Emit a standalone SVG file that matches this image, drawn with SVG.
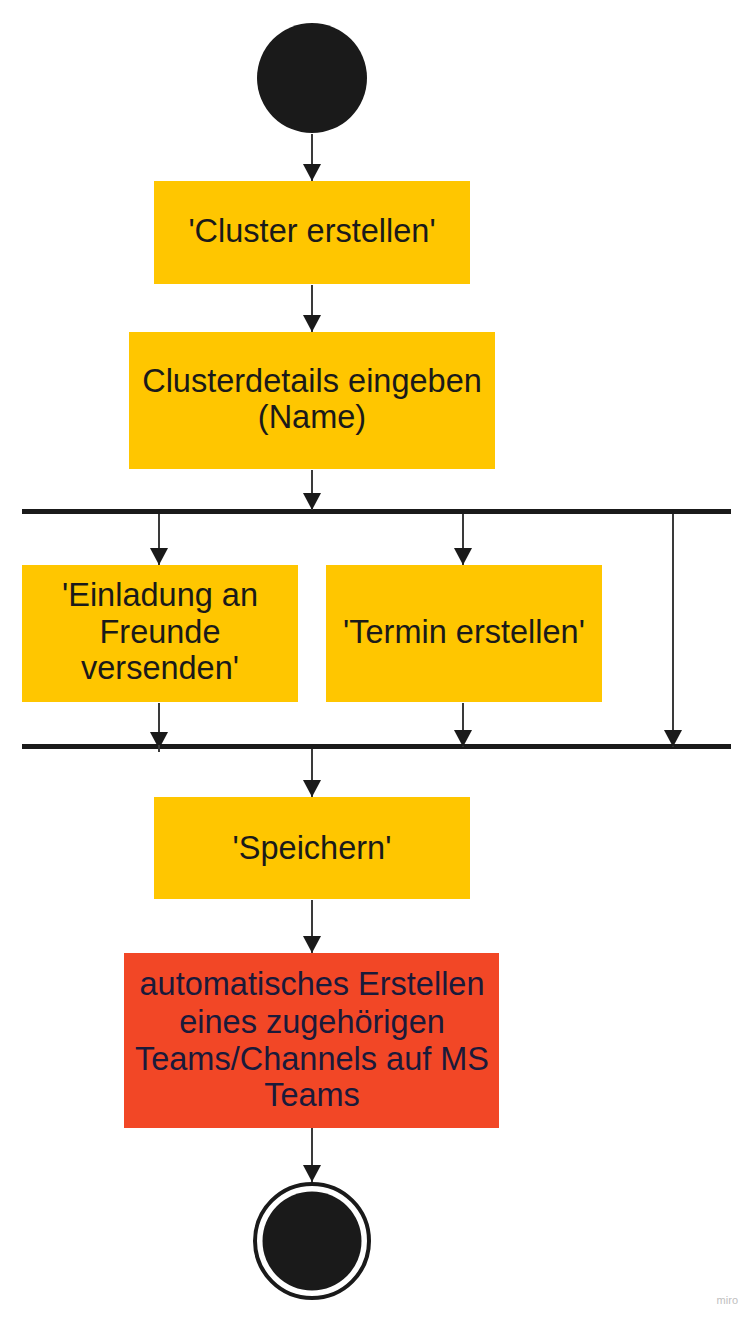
<svg xmlns="http://www.w3.org/2000/svg" width="756" height="1321" viewBox="0 0 756 1321">
<style>
.box{fill:#FFC600}
.red{fill:#F24726}
.t{font-family:"Liberation Sans",Arial,sans-serif;font-size:32.5px;fill:#1a1a1a;text-anchor:middle}
.tr{fill:#1a1a3a}
.c{stroke:#3a3a3a;stroke-width:2;fill:none}
.a{marker-end:url(#ah)}
.bar{fill:#1a1a1a}
</style>
<defs>
<marker id="ah" markerWidth="17" markerHeight="18" refX="17" refY="9" orient="auto" markerUnits="userSpaceOnUse" viewBox="0 0 17 18">
<path d="M0,0 L17,9 L0,18 Z" fill="#1a1a1a"/>
</marker>
</defs>
<rect width="756" height="1321" fill="#ffffff"/>
<g id="start"><circle cx="312" cy="78" r="55" fill="#1a1a1a"/></g>
<g id="cluster-erstellen"><rect class="box" x="154" y="181" width="316" height="103"/><text class="t" x="312" y="242">'Cluster erstellen'</text></g>
<g id="clusterdetails"><rect class="box" x="129" y="332" width="366" height="137"/><text class="t" x="312" y="392">Clusterdetails eingeben</text><text class="t" x="312" y="428">(Name)</text></g>
<g id="fork"><rect class="bar" x="22" y="509" width="709" height="5"/></g>
<g id="einladung"><rect class="box" x="22" y="565" width="276" height="137"/><text class="t" x="160" y="606">'Einladung an</text><text class="t" x="160" y="643">Freunde</text><text class="t" x="160" y="679">versenden'</text></g>
<g id="termin"><rect class="box" x="326" y="565" width="276" height="137"/><text class="t" x="464" y="643">'Termin erstellen'</text></g>
<g id="join"><rect class="bar" x="22" y="744" width="709" height="5"/></g>
<g id="speichern"><rect class="box" x="154" y="797" width="316" height="102"/><text class="t" x="312" y="859">'Speichern'</text></g>
<g id="teams"><rect class="red" x="124" y="953" width="375" height="175"/><text class="t tr" x="312" y="995">automatisches Erstellen</text><text class="t tr" x="312" y="1033">eines zugehörigen</text><text class="t tr" x="312" y="1070">Teams/Channels auf MS</text><text class="t tr" x="312" y="1106">Teams</text></g>
<g id="end"><circle cx="312" cy="1241" r="57" fill="none" stroke="#1a1a1a" stroke-width="4"/><circle cx="312" cy="1241" r="49.5" fill="#1a1a1a"/></g>
<g id="connectors">
<path class="c a" d="M312,134 V181"/>
<path class="c a" d="M312,285 V332"/>
<path class="c a" d="M312,470 V510"/>
<path class="c a" d="M159,514 V565"/>
<path class="c a" d="M463,514 V565"/>
<path class="c a" d="M159,703 V749"/><path class="c" d="M159,745 V752"/>
<path class="c a" d="M463,703 V747"/>
<path class="c a" d="M673,514 V747"/>
<path class="c a" d="M312,749 V797"/>
<path class="c a" d="M312,900 V953"/>
<path class="c a" d="M312,1128 V1182"/>
</g>
<text x="738" y="1304" font-family="'Liberation Sans',Arial,sans-serif" font-size="11" fill="#c0c0c0" text-anchor="end">miro</text>
</svg>
